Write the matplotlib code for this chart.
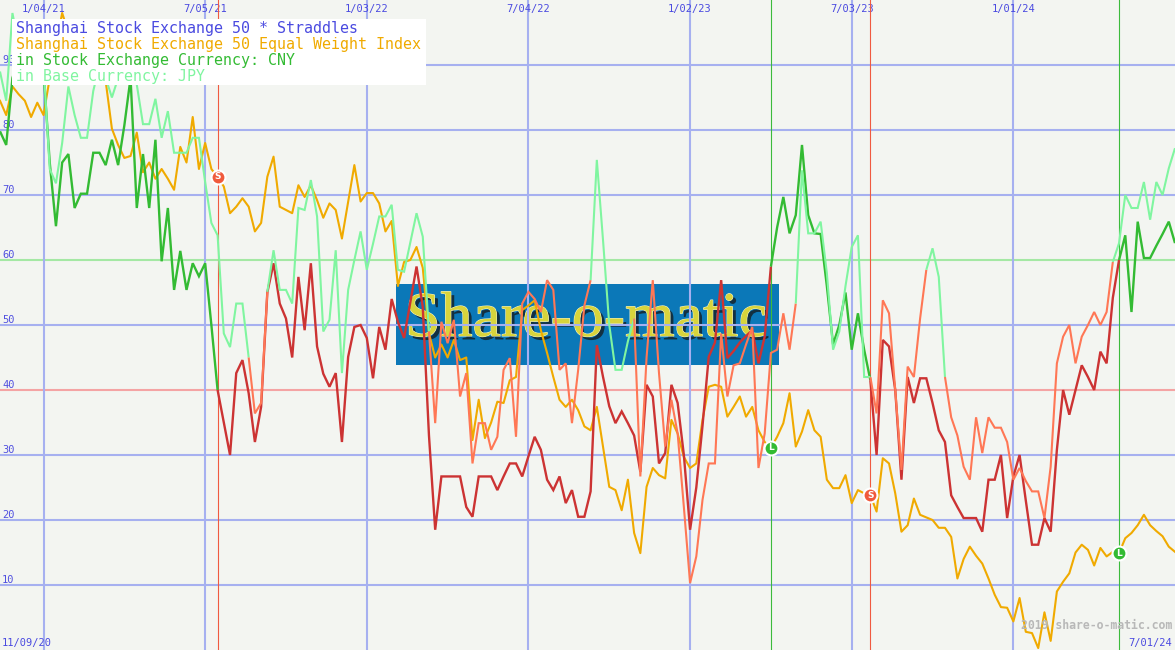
import matplotlib
matplotlib.use("Agg")
import matplotlib.pyplot as plt
import matplotlib.patheffects as pe
from matplotlib.patches import Rectangle
import numpy as np
import pandas as pd

# ---------------- data ----------------
start_date = "2020-11-16"          # weekly observations (Mondays)

index_ew = [84.5, 82.3, 86.7, 85.5, 84.5, 82, 84.2, 82.3, 88, 93,
            98, 95, 92, 94, 90, 92, 89, 87.5, 80.2, 77.7,
            75.7, 76, 79.6, 73.5, 75, 72.5, 74, 72.5, 70.8, 77.4,
            75, 82, 74, 78, 74, 72.8, 71.3, 67.2, 68.2, 69.5,
            68.2, 64.4, 65.7, 72.8, 75.9, 68.2, 67.7, 67.2, 71.5, 69.7,
            71.5, 69.2, 66.5, 68.7, 67.7, 63.3, 69, 74.6, 69, 70.3,
            70.3, 68.7, 64.4, 66, 56, 59.7, 60, 62, 58.8, 48.7,
            45, 47, 45, 47.7, 44.6, 45, 32.3, 38.5, 32.6, 35,
            38.2, 38, 41.5, 42, 52.3, 53, 53.8, 49.2, 45.7, 42,
            38.5, 37.4, 38.5, 36.9, 34.4, 33.8, 37.4, 31.3, 25.1, 24.6,
            21.5, 26.2, 18, 14.9, 25.1, 28, 26.9, 26.4, 35.4, 33.3,
            29.7, 28, 28.7, 35.4, 40.5, 40.8, 40.5, 35.9, 37.4, 39,
            35.9, 37.4, 33.8, 32, 31.1, 32.8, 34.9, 39.5, 31.3, 33.6,
            36.9, 33.8, 32.8, 26.2, 24.9, 24.9, 26.9, 22.6, 24.6, 24.1,
            23.8, 21.3, 29.5, 28.7, 24.1, 18.2, 19.2, 23.3, 20.8, 20.4,
            20, 18.8, 18.8, 17.4, 11, 14, 15.9, 14.5, 13.3, 11,
            8.5, 6.6, 6.5, 4.4, 8, 2.8, 2.6, 0.3, 5.8, 1.4,
            9, 10.5, 11.8, 15, 16.2, 15.4, 13, 15.7, 14.4, 15.1,
            14.9, 17.2, 18, 19.2, 20.8, 19.2, 18.3, 17.5, 15.9, 15.1]

straddle_cny = [79.8, 77.7, 88, 91, 89, 92, 90, 89, 75, 65.2,
                75, 76.3, 68, 70.2, 70.2, 76.5, 76.5, 74.6, 78.5, 74.6,
                80.7, 88, 68, 76.3, 68, 78.5, 59.8, 68, 55.4, 61.4,
                55.4, 59.5, 57.5, 59.5, 50, 40, 35, 30, 42.6, 44.6,
                39.5, 32, 37.4, 55, 59.5, 53.3, 51, 45, 57.4, 49.2,
                59.5, 46.7, 42.5, 40.5, 42.6, 32, 45.1, 49.7, 50, 48,
                41.8, 49.7, 46.2, 54, 50.5, 48, 53.5, 59, 52.8, 33,
                18.5, 26.7, 26.7, 26.7, 26.7, 22, 20.5, 26.7, 26.7, 26.7,
                24.6, 26.7, 28.7, 28.7, 26.7, 29.8, 32.8, 30.8, 26.2, 24.6,
                26.7, 22.6, 24.6, 20.5, 20.5, 24.4, 46.9, 42, 37.5, 34.9,
                36.7, 34.9, 33, 27.4, 40.8, 39, 28.7, 30.3, 40.8, 38,
                30, 18.5, 25, 34.5, 45.1, 47.3, 56.9, 44.9, 46, 47.3,
                48.3, 49.2, 44.1, 48.2, 59, 65, 69.7, 64.1, 66.9, 77.7,
                66.9, 64.1, 64, 56, 47, 50, 55, 46.2, 51.8, 46.2,
                41.5, 30, 47.7, 46.7, 40, 26.2, 42, 38, 41.8, 41.8,
                38, 33.8, 32, 23.8, 22, 20.3, 20.3, 20.3, 18.2, 26.2,
                26.2, 30, 20.3, 26.7, 30, 23, 16.2, 16.2, 20.3, 18.2,
                30.8, 40, 36.2, 40, 43.8, 42, 40, 45.9, 44.1, 54.2,
                60, 63.8, 52, 65.9, 60.3, 60.3, 62.2, 64, 65.9, 62.6]

straddle_jpy = [89, 84.5, 98, 93, 95, 92, 94, 90, 74, 71.8,
                78, 86.7, 82.3, 78.8, 78.8, 86, 90, 88, 85, 88,
                89, 88, 87, 80.9, 80.9, 84.8, 78.8, 82.9, 76.5, 76.5,
                76.5, 78.8, 78.8, 72, 65.7, 63.8, 48.7, 46.6, 53.3, 53.3,
                45, 36.4, 38, 55.1, 61.5, 55.4, 55.4, 53.3, 68, 67.7,
                72.3, 66.7, 49, 50.8, 61.5, 42.6, 55.4, 60, 64.4, 58.5,
                62.5, 66.7, 66.7, 68.5, 58.5, 58.2, 62.7, 67.2, 63.6, 49,
                34.9, 50.5, 47.2, 50.8, 39, 42.6, 28.7, 34.9, 34.9, 30.8,
                32.8, 43.1, 44.9, 32.8, 53.3, 55.1, 54, 52, 56.9, 55.4,
                43.1, 44.1, 34.9, 43.1, 53, 56.9, 75.4, 63, 50, 43.1,
                43.1, 47.5, 51, 26.7, 45, 56.9, 42.6, 31.3, 38.5, 33.3,
                22, 10.3, 14.4, 23.1, 28.7, 28.7, 48.7, 39, 43.8, 44.1,
                47, 49.7, 28, 33.3, 45.7, 46.2, 51.8, 46.2, 53.3, 73.8,
                64.1, 64.1, 65.9, 58, 46.2, 49, 56, 62, 63.8, 42,
                42, 36.4, 53.8, 51.8, 40, 27.7, 43.6, 42, 51, 58.5,
                61.8, 57.4, 42, 35.8, 33, 28.2, 26.2, 35.8, 30.3, 35.8,
                34.2, 34.2, 32, 26.2, 28, 26, 24.4, 24.4, 20.3, 28.2,
                44.1, 48.2, 50, 44.1, 48.2, 50, 52, 50, 52, 59.7,
                62.6, 70, 68, 68, 72, 66.2, 72, 70, 74.1, 77.2]

# signal dates (state flips: long <-> short)
cny_signals = ["2021-07-19", "2023-04-03", "2023-07-24", "2024-04-29"]
cny_signal_kind = ["S", "L", "S", "L"]
jpy_signals = ["2021-08-23", "2021-09-13", "2022-03-14", "2022-09-12",
               "2022-10-31", "2023-05-01", "2023-07-24", "2023-09-25",
               "2023-10-16", "2024-04-22"]

date_ticks = ["2021-01-04", "2021-07-05", "2022-01-03", "2022-07-04",
              "2023-01-02", "2023-07-03", "2024-01-01"]
date_tick_labels = ["1/04/21", "7/05/21", "1/03/22", "7/04/22",
                    "1/02/23", "7/03/23", "1/01/24"]
y_levels = [10, 20, 30, 40, 50, 60, 70, 80, 90]

title_lines = ["Shanghai Stock Exchange 50 * Straddles",
               "Shanghai Stock Exchange 50 Equal Weight Index",
               "in Stock Exchange Currency: CNY",
               "in Base Currency: JPY"]

# ---------------- style ----------------
BG = "#f3f5f1"
GRID = "#a6b0f0"
ORANGE = "#f0aa00"
DGREEN = "#33bb33"
DRED = "#cc3333"
LGREEN = "#80f5a0"
SALMON = "#ff7755"
BLUE_TXT = "#4a4ae0"
MONO = "DejaVu Sans Mono"

dates = pd.date_range(start_date, periods=len(index_ew), freq="7D")

fig = plt.figure(figsize=(11.75, 6.5), dpi=100)
fig.patch.set_facecolor(BG)
ax = fig.add_axes([0, 0, 1, 1])
ax.set_facecolor(BG)
ax.set_xlim(dates[0], dates[-1])
ax.set_ylim(0, 100)
ax.axis("off")

# logo box (behind grid)
ax.add_patch(Rectangle((396 / 1175, 1 - 365 / 650), (779 - 396) / 1175, 81 / 650,
                       transform=ax.transAxes, facecolor="#0b78b8",
                       edgecolor="none", zorder=0.5))
ax.text(586 / 1175, 1 - 321 / 650, "Share-o-matic", transform=ax.transAxes,
        ha="center", va="center", fontsize=46, family="Liberation Serif",
        color="#d8d43c", zorder=0.6,
        path_effects=[pe.withSimplePatchShadow(offset=(2.5, -2.5), shadow_rgbFace="#14242c", alpha=0.85),
                      pe.withStroke(linewidth=0.8, foreground="#eef0c8")])

# grid
for v in y_levels:
    col = GRID
    if v == 60:
        col = "#a4e8a4"
    elif v == 40:
        col = "#f4a4a4"
    ax.axhline(v, color=col, lw=1.5, zorder=1)
    ax.text(2 / 1175, v + 0.25, str(v), transform=ax.get_yaxis_transform(),
            ha="left", va="baseline", fontsize=7.5, family=MONO,
            color="#5050e0", zorder=1.5)
for d, lab in zip(date_ticks, date_tick_labels):
    ax.axvline(pd.Timestamp(d), color=GRID, lw=1.5, zorder=1)
    ax.text(pd.Timestamp(d), 1 - 9 / 650, lab, transform=ax.get_xaxis_transform(),
            ha="center", va="center", fontsize=7.5, family=MONO,
            color=BLUE_TXT, zorder=1.5)

# signal verticals
for d, k in zip(cny_signals, cny_signal_kind):
    ax.axvline(pd.Timestamp(d), color="#f05a40" if k == "S" else "#3cbb3c",
               lw=0.8, zorder=2)


def state_line(vals, switches, colors, lw, z):
    sw = pd.to_datetime(switches).values
    state = np.searchsorted(sw, dates.values, side="right") % 2
    n = len(vals)
    i = 0
    while i < n - 1:
        j = i
        while j < n - 1 and state[j] == state[i]:
            j += 1
        ax.plot(dates[i:j + 1], vals[i:j + 1], color=colors[state[i]],
                lw=lw, zorder=z, solid_joinstyle="miter", solid_capstyle="butt")
        i = j


ax.plot(dates, index_ew, color=ORANGE, lw=1.5, zorder=3)
state_line(straddle_cny, cny_signals, [DGREEN, DRED], 1.7, 4)
state_line(straddle_jpy, jpy_signals, [LGREEN, SALMON], 1.5, 5)

# signal markers on the index
for d, k in zip(cny_signals, cny_signal_kind):
    t = pd.Timestamp(d)
    v = index_ew[list(dates).index(t)]
    fc = "#f05a3c" if k == "S" else DGREEN
    ax.plot([t], [v], "o", ms=10, mfc=fc, mec="white", mew=1.5, zorder=8)
    ax.text(t, v, k, ha="center", va="center", fontsize=6.5, color="white",
            fontweight="bold", family="DejaVu Sans", zorder=9)

# legend box
ax.add_patch(Rectangle((12 / 1175, 1 - 85 / 650), (426 - 12) / 1175, 66 / 650,
                       transform=ax.transAxes, facecolor="white",
                       edgecolor="none", zorder=10))
legend_colors = [BLUE_TXT, ORANGE, DGREEN, LGREEN]
for i, (txt, c) in enumerate(zip(title_lines, legend_colors)):
    ax.text(16 / 1175, 1 - (28 + 16 * i) / 650, txt, transform=ax.transAxes,
            ha="left", va="center", fontsize=10.8, family=MONO, color=c,
            zorder=11)

# corner labels
ax.text(2 / 1175, 4 / 650, "11/09/20", transform=ax.transAxes, ha="left",
        va="baseline", fontsize=7.5, family=MONO, color=BLUE_TXT, zorder=12)
ax.text(1172 / 1175, 4 / 650, "7/01/24", transform=ax.transAxes, ha="right",
        va="baseline", fontsize=7.5, family=MONO, color=BLUE_TXT, zorder=12)
ax.text(1172 / 1175, 21 / 650, "2019 share-o-matic.com", transform=ax.transAxes,
        ha="right", va="baseline", fontsize=8.3, family=MONO, color="#b8b8b8",
        fontweight="bold", zorder=12)

fig.savefig("out.png", dpi=100, facecolor=BG)
